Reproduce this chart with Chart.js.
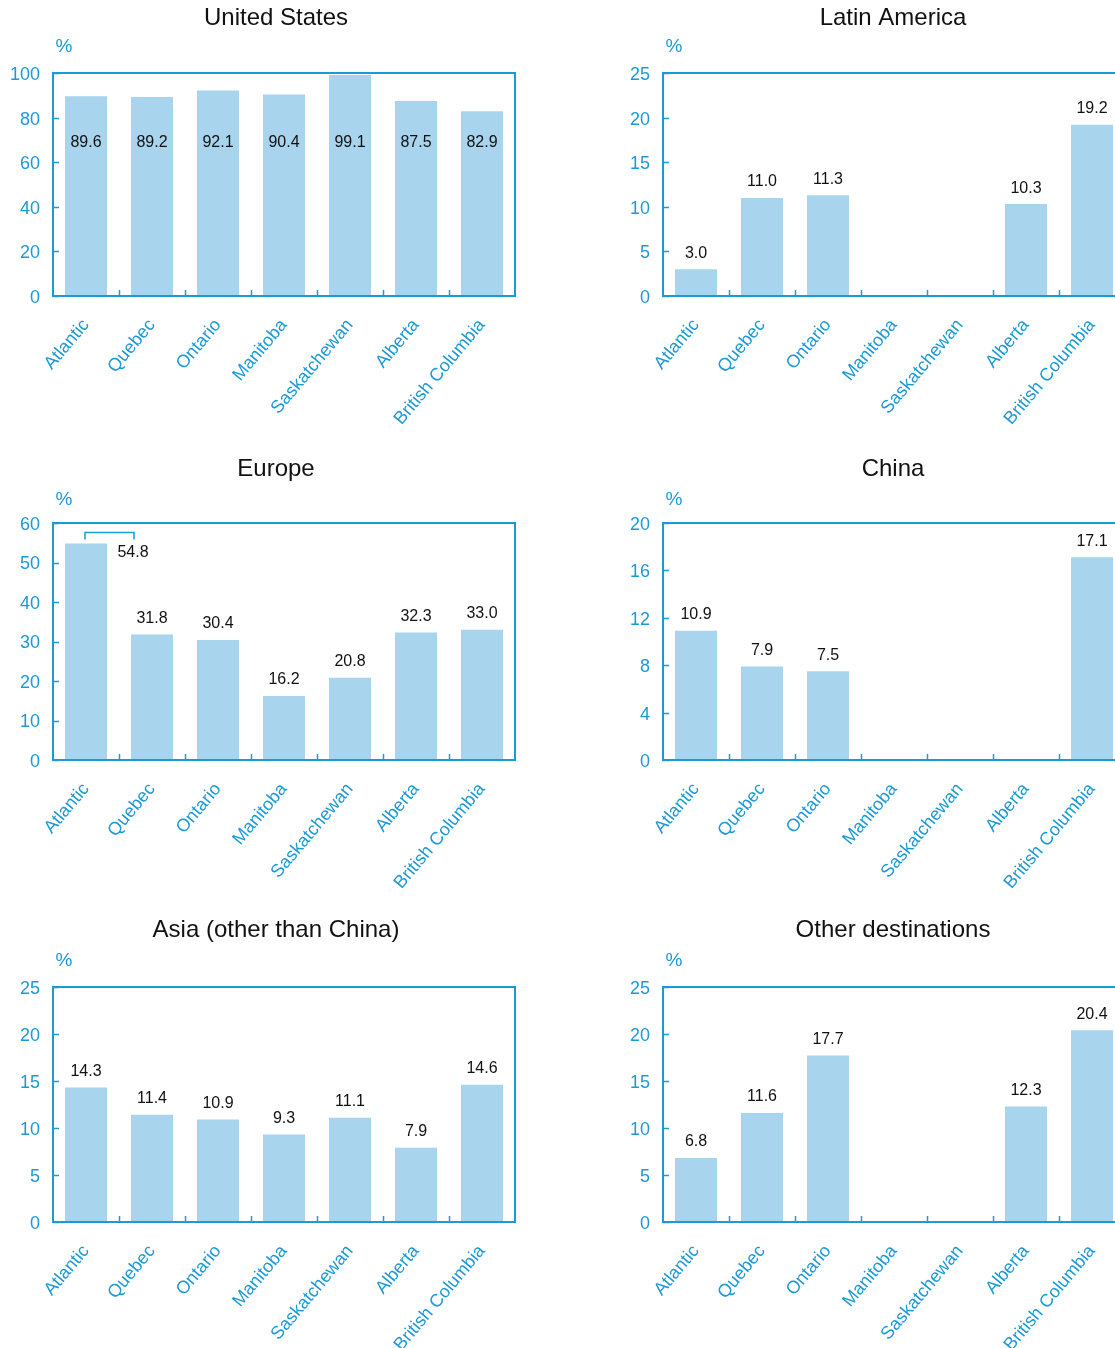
<!DOCTYPE html>
<html>
<head>
<meta charset="utf-8">
<title>Destinations by province</title>
<script src="https://cdn.jsdelivr.net/npm/chart.js@4/dist/chart.umd.min.js"></script>
<style>
  html, body { margin: 0; padding: 0; background: #fff; overflow: hidden; }
  body { position: relative; width: 1115px; height: 1348px; }
  canvas { position: absolute; }
</style>
</head>
<body>
<canvas id="pUS"></canvas>
<canvas id="pLatAm"></canvas>
<canvas id="pEurope"></canvas>
<canvas id="pChina"></canvas>
<canvas id="pAsia"></canvas>
<canvas id="pOther"></canvas>
<script>
// Provinces shown along every x axis
const provinces = ['Atlantic', 'Quebec', 'Ontario', 'Manitoba', 'Saskatchewan', 'Alberta', 'British Columbia'];

// Share of each province (%) going to each destination; null = no value shown
const unitedStates       = [89.6, 89.2, 92.1, 90.4, 99.1, 87.5, 82.9];
const latinAmerica       = [3.0, 11.0, 11.3, null, null, 10.3, 19.2];
const europe             = [54.8, 31.8, 30.4, 16.2, 20.8, 32.3, 33.0];
const china              = [10.9, 7.9, 7.5, null, null, null, 17.1];
const asiaOtherThanChina = [14.3, 11.4, 10.9, 9.3, 11.1, 7.9, 14.6];
const otherDestinations  = [6.8, 11.6, 17.7, null, null, 12.3, 20.4];

// Y-axis tick labels for each panel
const ticksUS     = [0, 20, 40, 60, 80, 100];
const ticksLatAm  = [0, 5, 10, 15, 20, 25];
const ticksEurope = [0, 10, 20, 30, 40, 50, 60];
const ticksChina  = [0, 4, 8, 12, 16, 20];
const ticksAsia   = [0, 5, 10, 15, 20, 25];
const ticksOther  = [0, 5, 10, 15, 20, 25];

const BLUE = '#1b9ad6';
const BAR = '#a8d4ed';
const INK = '#111111';
const FONT = "'Liberation Sans', Arial, Helvetica, sans-serif";

// Frame, inward tick marks, value labels, panel title and unit
const panelDecor = {
  id: 'panelDecor',
  afterDatasetsDraw(chart, args, o) {
    const { ctx, chartArea: a } = chart;
    const x = chart.scales.x, y = chart.scales.y;
    ctx.save();
    ctx.strokeStyle = BLUE;
    ctx.lineWidth = 2;
    ctx.strokeRect(a.left, a.top, a.right - a.left, a.bottom - a.top);
    ctx.beginPath();
    y.ticks.forEach(t => {
      const py = Math.round(y.getPixelForValue(t.value)) + 0.5;
      ctx.moveTo(a.left, py); ctx.lineTo(a.left + 6, py);
    });
    for (let i = 1; i < x.ticks.length; i++) {
      const px = Math.round((x.getPixelForValue(i - 1) + x.getPixelForValue(i)) / 2) + 0.5;
      ctx.moveTo(px, a.bottom); ctx.lineTo(px, a.bottom - 6);
    }
    ctx.lineWidth = 1.5;
    ctx.stroke();

    // value labels
    const meta = chart.getDatasetMeta(0);
    const values = chart.data.datasets[0].data;
    ctx.fillStyle = INK;
    ctx.font = '16px ' + FONT;
    ctx.textAlign = 'center';
    ctx.textBaseline = 'middle';
    meta.data.forEach((bar, i) => {
      const v = values[i];
      if (v === null || v === undefined) return;
      const txt = v.toFixed(1);
      if (o.callout && o.callout.index === i) {
        // bracket leading from the bar to its label
        const by = bar.y - 11;
        ctx.beginPath();
        ctx.moveTo(bar.x - 1, by + 7); ctx.lineTo(bar.x - 1, by);
        ctx.lineTo(bar.x + 48, by); ctx.lineTo(bar.x + 48, by + 7);
        ctx.strokeStyle = BLUE; ctx.lineWidth = 1.5; ctx.stroke();
        ctx.fillText(txt, bar.x + 47, bar.y + 9);
      } else if (o.labelAt !== undefined) {
        ctx.fillText(txt, bar.x, y.getPixelForValue(o.labelAt));
      } else {
        ctx.fillText(txt, bar.x, bar.y - 16);
      }
    });

    // title and unit
    ctx.fillStyle = INK;
    ctx.font = '24px ' + FONT;
    ctx.fillText(o.title, o.titleX, a.top - o.titleGap);
    ctx.fillStyle = BLUE;
    ctx.font = '19px ' + FONT;
    ctx.fillText('%', a.left + 11, a.top - o.unitGap);
    ctx.restore();
  }
};

function panel(id, pos, title, values, ticks, extra) {
  const cv = document.getElementById(id);
  cv.width = 530; cv.height = pos.h;
  cv.style.left = pos.left + 'px';
  cv.style.top = pos.top + 'px';
  return new Chart(cv, {
    type: 'bar',
    data: {
      labels: provinces,
      datasets: [{
        data: values,
        backgroundColor: BAR,
        borderWidth: 0,
        categoryPercentage: 1,
        barPercentage: 42 / 66
      }]
    },
    options: {
      responsive: false,
      animation: false,
      devicePixelRatio: 1,
      layout: { padding: { left: 0, right: 15, top: pos.plotTop, bottom: 0 } },
      plugins: {
        legend: { display: false },
        tooltip: { enabled: false },
        title: { display: false },
        panelDecor: Object.assign({
          title: title, titleX: pos.titleX, titleGap: pos.titleGap, unitGap: pos.unitGap
        }, extra || {})
      },
      scales: {
        x: {
          grid: { display: false, drawTicks: false },
          border: { display: false },
          ticks: {
            color: BLUE,
            font: { family: FONT, size: 18 },
            minRotation: 50, maxRotation: 50,
            autoSkip: false,
            padding: 19
          },
          afterFit(s) { s.height = pos.h - pos.plotBottom; }
        },
        y: {
          min: 0,
          max: ticks[ticks.length - 1],
          grid: { display: false, drawTicks: false },
          border: { display: false },
          ticks: {
            color: BLUE,
            font: { family: FONT, size: 18 },
            padding: 13,
            labelOffset: 2
          },
          afterBuildTicks(s) { s.ticks = ticks.map(v => ({ value: v })); },
          afterFit(s) { s.width = 53; }
        }
      }
    },
    plugins: [panelDecor]
  });
}

const L = 0, R = 610;
const row1 = { top: 0,   h: 450, plotTop: 73, plotBottom: 296, titleGap: 55, unitGap: 26 };
const row2 = { top: 450, h: 460, plotTop: 73, plotBottom: 310, titleGap: 54, unitGap: 23 };
const row3 = { top: 910, h: 438, plotTop: 77, plotBottom: 312, titleGap: 57, unitGap: 26 };
const at = (row, left, titleX) => Object.assign({}, row, { left, titleX });

panel('pUS',     at(row1, L, 276), 'United States', unitedStates, ticksUS, { labelAt: 69 });
panel('pLatAm',  at(row1, R, 283), 'Latin America', latinAmerica, ticksLatAm);
panel('pEurope', at(row2, L, 276), 'Europe', europe, ticksEurope, { callout: { index: 0 } });
panel('pChina',  at(row2, R, 283), 'China', china, ticksChina);
panel('pAsia',   at(row3, L, 276), 'Asia (other than China)', asiaOtherThanChina, ticksAsia);
panel('pOther',  at(row3, R, 283), 'Other destinations', otherDestinations, ticksOther);
</script>
</body>
</html>
